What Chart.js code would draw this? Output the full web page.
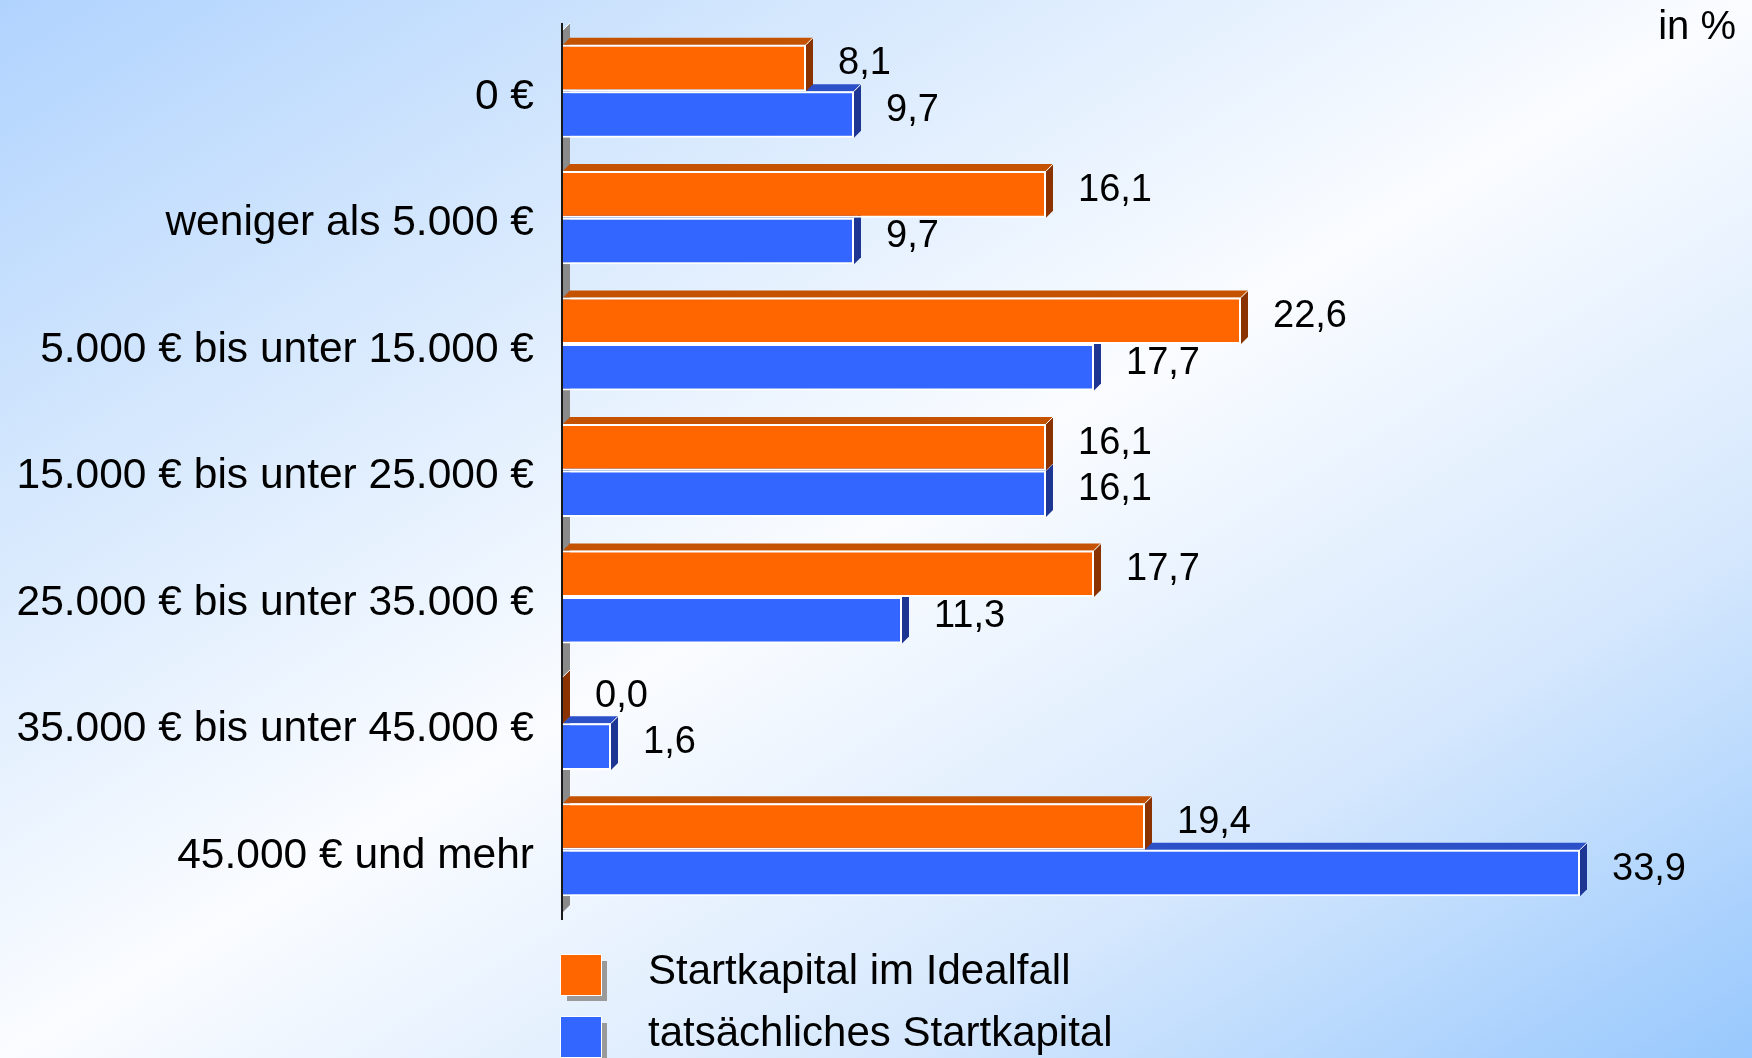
<!DOCTYPE html>
<html lang="de">
<head>
<meta charset="utf-8">
<title>Startkapital</title>
<script src="https://cdn.jsdelivr.net/npm/chart.js@4/dist/chart.umd.min.js"></script>
<style>
  html, body { margin: 0; padding: 0; background: #ffffff; }
  #wrap { position: relative; width: 1752px; height: 1058px; }
  canvas { display: block; }
</style>
</head>
<body>
<div id="wrap"><canvas id="chart" width="1752" height="1058"></canvas></div>
<script>
// Kategorien (Höhe des Startkapitals)
const categories = [
  '0 €',
  'weniger als 5.000 €',
  '5.000 € bis unter 15.000 €',
  '15.000 € bis unter 25.000 €',
  '25.000 € bis unter 35.000 €',
  '35.000 € bis unter 45.000 €',
  '45.000 € und mehr'
];

// Anteile in %
const idealfall = [8.1, 16.1, 22.6, 16.1, 17.7, 0.0, 19.4];
const tatsaechlich = [9.7, 9.7, 17.7, 16.1, 11.3, 1.6, 33.9];

const seriesNames = ['Startkapital im Idealfall', 'tatsächliches Startkapital'];
const unitLabel = 'in %';

const FONT = "'Liberation Sans', Arial, Helvetica, sans-serif";
const DEPTH = 7;

// front, top and side colours of the two bar series
const palette = [
  { front: '#ff6600', top: '#c45200', side: '#8a3300' },
  { front: '#3366ff', top: '#2b50c8', side: '#1d3593' }
];

const fmt = v => v.toFixed(1).replace('.', ',');

// page background: diagonal blue - white - blue gradient
const backgroundPlugin = {
  id: 'bg',
  beforeDraw(chart) {
    const { ctx, width: W, height: H } = chart;
    const k = (W * H) / (W * W + H * H);
    const cx = W / 2, cy = H / 2;
    const g = ctx.createLinearGradient(cx - H * k, cy - W * k, cx + H * k, cy + W * k);
    g.addColorStop(0, '#b0d3fe');
    g.addColorStop(0.22, '#d2e6fd');
    g.addColorStop(0.5, '#fafcff');
    g.addColorStop(0.75, '#d6e8fd');
    g.addColorStop(1, '#98c8fd');
    ctx.save();
    ctx.fillStyle = g;
    ctx.fillRect(0, 0, W, H);
    ctx.restore();
  }
};

// grey 3D wall along the category axis and the axis line
const wallPlugin = {
  id: 'wall',
  beforeDatasetsDraw(chart) {
    const { ctx, chartArea: a } = chart;
    const x0 = a.left;
    const top = a.top - 5;
    const bottom = a.bottom + 3;
    ctx.save();
    ctx.fillStyle = '#8a8a8a';
    ctx.beginPath();
    ctx.moveTo(x0, top + DEPTH);
    ctx.lineTo(x0 + DEPTH, top);
    ctx.lineTo(x0 + DEPTH, bottom - DEPTH - 4);
    ctx.lineTo(x0, bottom - 4);
    ctx.closePath();
    ctx.fill();
    ctx.strokeStyle = '#ffffff';
    ctx.lineWidth = 1;
    ctx.beginPath();
    ctx.moveTo(x0, top + DEPTH);
    ctx.lineTo(x0 + DEPTH, top);
    ctx.stroke();
    ctx.strokeStyle = '#1a1a1a';
    ctx.lineWidth = 2;
    ctx.beginPath();
    ctx.moveTo(x0 - 1, top);
    ctx.lineTo(x0 - 1, bottom + 4);
    ctx.stroke();
    ctx.restore();
  }
};

// top and side faces of each bar, drawn just before the bar fronts
const depthPlugin = {
  id: 'depth',
  beforeDatasetDraw(chart, args) {
    const { ctx } = chart;
    const col = palette[args.index];
    ctx.save();
    ctx.lineWidth = 1;
    ctx.strokeStyle = '#ffffff';
    args.meta.data.forEach(bar => {
      const p = bar.getProps(['x', 'y', 'base', 'height'], true);
      const t = p.y - p.height / 2;
      const b = p.y + p.height / 2;
      // top face
      ctx.fillStyle = col.top;
      ctx.beginPath();
      ctx.moveTo(p.base, t);
      ctx.lineTo(p.base + DEPTH, t - DEPTH);
      ctx.lineTo(p.x + DEPTH, t - DEPTH);
      ctx.lineTo(p.x, t);
      ctx.closePath();
      ctx.fill();
      // side face
      ctx.fillStyle = col.side;
      ctx.beginPath();
      ctx.moveTo(p.x, t);
      ctx.lineTo(p.x + DEPTH, t - DEPTH);
      ctx.lineTo(p.x + DEPTH, b - DEPTH);
      ctx.lineTo(p.x, b);
      ctx.closePath();
      ctx.fill();
      // white highlight on the front-top corner edge
      ctx.beginPath();
      ctx.moveTo(p.x, t);
      ctx.lineTo(p.x + DEPTH, t - DEPTH);
      ctx.stroke();
    });
    ctx.restore();
  }
};

// value labels, unit note and legend
const labelsPlugin = {
  id: 'labels',
  afterDatasetsDraw(chart) {
    const { ctx, chartArea: a } = chart;
    ctx.save();
    ctx.fillStyle = '#000000';
    ctx.textBaseline = 'middle';
    ctx.textAlign = 'left';
    ctx.font = '38px ' + FONT;
    chart.data.datasets.forEach((ds, i) => {
      chart.getDatasetMeta(i).data.forEach((bar, j) => {
        const p = bar.getProps(['x', 'y'], true);
        ctx.fillText(fmt(ds.data[j]), p.x + 32, p.y - 4);
      });
    });

    // unit note
    ctx.textAlign = 'right';
    ctx.font = '40px ' + FONT;
    ctx.fillText(unitLabel, chart.width - 16, 28);

    // legend
    const lx = a.left - 2;
    const rows = [975, 1037];
    ctx.textAlign = 'left';
    ctx.font = '42px ' + FONT;
    chart.data.datasets.forEach((ds, i) => {
      const y = rows[i];
      ctx.fillStyle = '#9a9a9a';
      ctx.fillRect(lx + 6, y - 20 + 6, 40, 40);
      ctx.fillStyle = '#ffffff';
      ctx.fillRect(lx - 1, y - 21, 42, 42);
      ctx.fillStyle = ds.backgroundColor;
      ctx.fillRect(lx, y - 20, 40, 40);
      ctx.fillStyle = '#000000';
      ctx.fillText(ds.label, 648, y - 3);
    });
    ctx.restore();
  }
};

new Chart(document.getElementById('chart'), {
  type: 'bar',
  data: {
    labels: categories,
    datasets: [
      {
        label: seriesNames[0],
        data: idealfall,
        backgroundColor: palette[0].front,
        borderColor: '#ffffff',
        borderWidth: 2,
        borderSkipped: 'start'
      },
      {
        label: seriesNames[1],
        data: tatsaechlich,
        backgroundColor: palette[1].front,
        borderColor: '#ffffff',
        borderWidth: 2,
        borderSkipped: 'start'
      }
    ]
  },
  options: {
    indexAxis: 'y',
    responsive: false,
    animation: false,
    devicePixelRatio: 1,
    categoryPercentage: 0.736,
    barPercentage: 1.0,
    layout: { padding: { top: 28, bottom: 145, left: 0, right: 19 } },
    plugins: {
      legend: { display: false },
      tooltip: { enabled: false },
      title: { display: false }
    },
    scales: {
      x: {
        display: false,
        min: 0,
        max: 39
      },
      y: {
        grid: { display: false, drawTicks: false },
        border: { display: false },
        ticks: {
          color: '#000000',
          padding: 29,
          labelOffset: 6,
          font: { family: FONT, size: 42.5 }
        },
        afterFit(scale) {
          scale.width = 563;
          scale.paddingTop = 0;
          scale.paddingBottom = 0;
        }
      }
    }
  },
  plugins: [backgroundPlugin, wallPlugin, depthPlugin, labelsPlugin]
});
</script>
</body>
</html>
